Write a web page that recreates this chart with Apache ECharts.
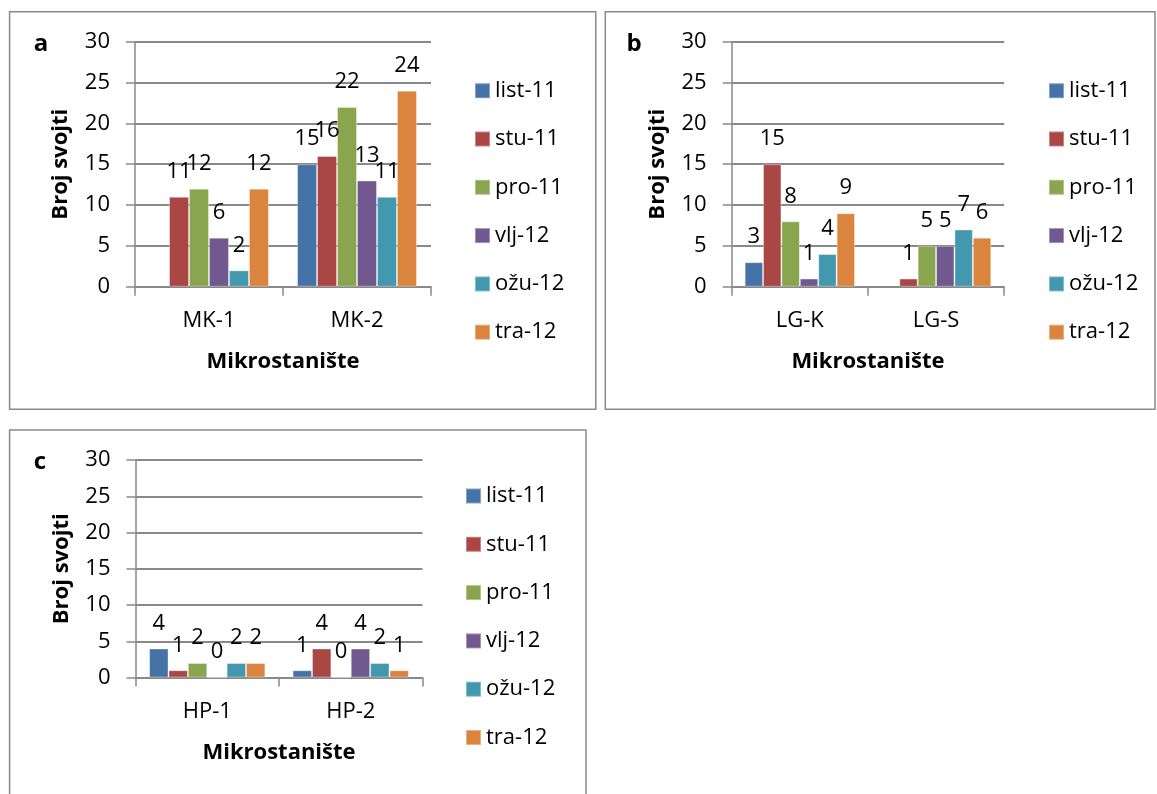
<!DOCTYPE html>
<html>
<head>
<meta charset="utf-8">
<script src="https://cdn.jsdelivr.net/npm/echarts@6/dist/echarts.min.js"></script>
<style>
  html, body { margin: 0; padding: 0; background: #fff; }
  #chart { width: 1157px; height: 794px; }
</style>
</head>
<body>
<div id="chart"></div>
<script>
// Sampling months (series) and their colours
const seriesNames = ['list-11', 'stu-11', 'pro-11', 'vlj-12', 'ožu-12', 'tra-12'];
const seriesColors = ['#4572A7', '#AA4643', '#89A54E', '#71588F', '#4198AF', '#DB843D'];

// Microhabitats per panel
const categoriesA = ['MK-1', 'MK-2'];
const categoriesB = ['LG-K', 'LG-S'];
const categoriesC = ['HP-1', 'HP-2'];

// Number of taxa: one row per month, one value per microhabitat (null = not sampled)
const valuesA = [[null, 15], [11, 16], [12, 22], [6, 13], [2, 11], [12, 24]];
const valuesB = [[3, null], [15, 1], [8, 5], [1, 5], [4, 7], [9, 6]];
const valuesC = [[4, 1], [1, 4], [2, 0], [0, 4], [2, 2], [2, 1]];

// Value axis range
const yMin = 0, yMax = 30, yStep = 5;

const xTitle = 'Mikrostanište';
const yTitle = 'Broj svojti';
const panelLetters = ['a', 'b', 'c'];

const FONT = '"Open Sans", "Noto Sans", sans-serif';
const GRID_GRAY = '#898989';

const panels = [
  { cats: categoriesA, vals: valuesA,
    grid: { left: 135, top: 41.7, width: 296, height: 245 },
    legend: { left: 474, top: 79.7 },
    letter: { x: 41, y: 44 },
    box: { x: 9.6, y: 11.7, width: 586.2, height: 397.6 } },
  { cats: categoriesB, vals: valuesB,
    grid: { left: 731.7, top: 41.7, width: 272.5, height: 245 },
    legend: { left: 1048, top: 79.7 },
    letter: { x: 634, y: 44 },
    box: { x: 605.3, y: 11.7, width: 549.7, height: 397.6 } },
  { cats: categoriesC, vals: valuesC,
    grid: { left: 135.5, top: 460, width: 287, height: 217.5 },
    legend: { left: 465, top: 485 },
    letter: { x: 40, y: 462 },
    box: { x: 9.6, y: 430, width: 576.4, height: 400 } }
];

const grids = [], xAxes = [], yAxes = [], legends = [], series = [], graphics = [];

panels.forEach((p, i) => {
  grids.push(Object.assign({ containLabel: false }, p.grid));

  xAxes.push({
    type: 'category', gridIndex: i, data: p.cats,
    axisLine: { lineStyle: { color: GRID_GRAY, width: 1.5 } },
    axisTick: { show: true, length: 9, alignWithLabel: false, lineStyle: { color: GRID_GRAY, width: 1.5 } },
    axisLabel: { color: '#000', fontFamily: FONT, fontSize: 22, margin: 23 },
    name: xTitle, nameLocation: 'middle', nameGap: 64,
    nameTextStyle: { color: '#000', fontFamily: FONT, fontSize: 22, fontWeight: 'bold' }
  });

  yAxes.push({
    type: 'value', gridIndex: i, min: yMin, max: yMax, interval: yStep,
    axisLine: { show: true, lineStyle: { color: GRID_GRAY, width: 1.5 } },
    axisTick: { show: true, length: 9, lineStyle: { color: GRID_GRAY, width: 1.5 } },
    splitLine: { show: true, lineStyle: { color: GRID_GRAY, width: 1.8 } },
    axisLabel: { color: '#000', fontFamily: FONT, fontSize: 22, margin: 25 },
    name: yTitle, nameLocation: 'middle', nameGap: 63,
    nameTextStyle: { color: '#000', fontFamily: FONT, fontSize: 22, fontWeight: 'bold' }
  });

  legends.push({
    orient: 'vertical', left: p.legend.left, top: p.legend.top, padding: 0,
    itemWidth: 15, itemHeight: 15, itemGap: 26.3, icon: 'rect',
    data: seriesNames,
    textStyle: { color: '#000', fontFamily: FONT, fontSize: 22, lineHeight: 22 }
  });

  seriesNames.forEach((name, s) => {
    series.push({
      type: 'bar', name: name, xAxisIndex: i, yAxisIndex: i,
      data: p.vals[s],
      barGap: '0%', barCategoryGap: '19%',
      itemStyle: { color: seriesColors[s], borderColor: 'rgba(255,255,255,0.35)', borderWidth: 1 },
      label: { show: true, position: 'top', distance: 14, color: '#000', fontFamily: FONT, fontSize: 22 },
      emphasis: { disabled: true },
      animation: false
    });
  });

  graphics.push({
    type: 'rect', silent: true,
    shape: { x: p.box.x, y: p.box.y, width: p.box.width, height: p.box.height },
    style: { fill: 'none', stroke: '#8a8a8a', lineWidth: 1.5 }
  });
  graphics.push({
    type: 'text', silent: true, x: p.letter.x, y: p.letter.y,
    style: { text: panelLetters[i], fill: '#000', font: 'bold 24px ' + FONT, align: 'center', verticalAlign: 'middle' }
  });
});

const chart = echarts.init(document.getElementById('chart'), null, { renderer: 'canvas' });
chart.setOption({
  backgroundColor: '#fff',
  animation: false,
  grid: grids,
  xAxis: xAxes,
  yAxis: yAxes,
  legend: legends,
  series: series,
  graphic: graphics
});
</script>
</body>
</html>
